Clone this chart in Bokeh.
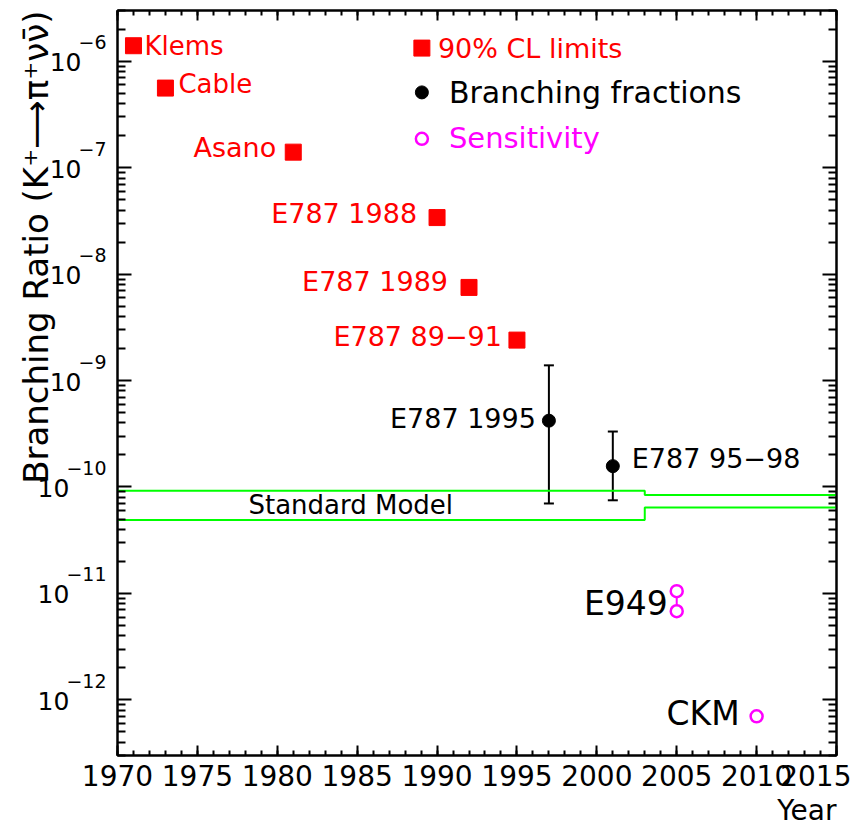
import math
from bokeh.plotting import figure
from bokeh.models import (ColumnDataSource, Range1d, FixedTicker, LinearAxis, LogAxis,
                          Whisker, TeeHead)
from bokeh.core.properties import value
from bokeh.embed import file_html
from bokeh.resources import INLINE

# ---------------- data ----------------
limit_years = [1971, 1973, 1981, 1990, 1992, 1995]
limit_br = [1.4e-6, 5.6e-7, 1.4e-7, 3.4e-8, 7.5e-9, 2.4e-9]
limit_labels = ["Klems", "Cable", "Asano", "E787 1988", "E787 1989", "E787 89\u221291"]

bf_years = [1997, 2001]
bf_values = [4.2e-10, 1.57e-10]
bf_upper = [1.39e-9, 3.32e-10]
bf_lower = [7.0e-11, 7.5e-11]
bf_labels = ["E787 1995", "E787 95\u221298"]

e949_years = [2005, 2005]
e949_values = [1.05e-11, 6.8e-12]
ckm_years = [2010]
ckm_values = [7.0e-13]
sens_labels = ["E949", "CKM"]

sm_years = [1970, 2003, 2015]
sm_upper = [9.2e-11, 8.4e-11, 8.4e-11]
sm_lower = [4.9e-11, 6.4e-11, 6.4e-11]
sm_label = "Standard Model"

x_major_ticks = list(range(1970, 2016, 5))
x_minor_ticks = list(range(1970, 2016))
y_exponents = [-12, -11, -10, -9, -8, -7, -6]

legend_labels = ["90% CL limits", "Branching fractions", "Sensitivity"]

X_MIN, X_MAX = 1970, 2015
Y_MIN, Y_MAX = 3e-13, 3e-6

# ---------------- style ----------------
FONT = "DejaVu Sans"
RED = "#ff0000"
MAGENTA = "#ff00ff"
GREEN = "#00ff00"

p = figure(output_backend="svg", toolbar_location=None,
           frame_width=719, frame_height=745,
           min_border_left=117, min_border_right=15, min_border_top=10, min_border_bottom=74,
           x_range=Range1d(X_MIN, X_MAX), y_range=Range1d(Y_MIN, Y_MAX),
           y_axis_type="log", x_axis_type="linear")
p.grid.visible = False
p.outline_line_color = "black"
p.outline_line_width = 2
p.background_fill_color = "white"
p.border_fill_color = "white"

y_major = [10.0 ** e for e in range(-13, -4)]
y_minor = [k * 10.0 ** e for e in range(-13, -4) for k in range(2, 10)]
xt = FixedTicker(ticks=x_major_ticks, minor_ticks=x_minor_ticks)
yt = FixedTicker(ticks=y_major, minor_ticks=y_minor)


def style_axis(ax, major_in, minor_in, labels=False):
    ax.axis_line_width = 2
    ax.axis_line_color = "black"
    ax.major_tick_in = major_in
    ax.major_tick_out = 0
    ax.minor_tick_in = minor_in
    ax.minor_tick_out = 0
    ax.major_tick_line_width = 2
    ax.minor_tick_line_width = 2
    if not labels:
        ax.major_label_text_font_size = "1px"
        ax.major_label_text_color = None
        ax.major_label_standoff = 0


xb = p.xaxis[0]
xb.ticker = xt
style_axis(xb, 10, 5, labels=True)
xb.major_label_text_font = FONT
xb.major_label_text_font_size = "28px"
xb.major_label_standoff = 9
xb.major_label_text_color = "black"

yl = p.yaxis[0]
yl.ticker = yt
style_axis(yl, 14, 8)

xa = LinearAxis(ticker=xt)
style_axis(xa, 10, 5)
p.add_layout(xa, "above")
yr = LogAxis(ticker=yt)
style_axis(yr, 14, 8)
p.add_layout(yr, "right")

# ---------------- Standard Model band ----------------
p.step(sm_years, sm_upper, mode="after", line_color=GREEN, line_width=2)
p.step(sm_years, sm_lower, mode="after", line_color=GREEN, line_width=2)

# ---------------- error bars ----------------
bf_src = ColumnDataSource(dict(x=bf_years, y=bf_values, upper=bf_upper, lower=bf_lower))
p.add_layout(Whisker(source=bf_src, base="x", upper="upper", lower="lower", dimension="height",
                     line_width=2, line_color="black",
                     upper_head=TeeHead(size=10, line_width=2, line_color="black"),
                     lower_head=TeeHead(size=10, line_width=2, line_color="black")))

# E949 connector
p.segment(x0=e949_years[:1], y0=e949_values[:1], x1=e949_years[1:], y1=e949_values[1:],
          line_color=MAGENTA, line_width=2)

# ---------------- markers ----------------
p.scatter(limit_years, limit_br, marker="square", size=16, fill_color=RED, line_color=RED)
p.scatter(bf_years, bf_values, marker="circle", size=13, fill_color="black", line_color="black")
p.scatter(e949_years + ckm_years, e949_values + ckm_values, marker="circle", size=12,
          fill_color="white", line_color=MAGENTA, line_width=2.5)


# ---------------- labels ----------------
def add_text(xs, ys, texts, xoff, yoff, align, color, size, baseline="middle", angle=0.0):
    src = ColumnDataSource(dict(x=xs, y=ys, text=texts, xo=xoff, yo=yoff))
    p.text(x="x", y="y", text="text", x_offset="xo", y_offset="yo", source=src,
           text_align=align, text_baseline=baseline, text_color=color,
           text_font=value(FONT), text_font_size=size, angle=angle, level="overlay")


# red limit labels: Klems, Cable to the right; others to the left
add_text(limit_years[:2], limit_br[:2], limit_labels[:2], [11, 13], [0, -4], "left", RED, "26px")
add_text(limit_years[2:], limit_br[2:], limit_labels[2:], [-17, -20, -21, -15], [-5, -4, -6, -4],
         "right", RED, "27px")
# branching-fraction labels
add_text(bf_years[:1], bf_values[:1], bf_labels[:1], [-13], [-2], "right", "black", "27px")
add_text(bf_years[1:], bf_values[1:], bf_labels[1:], [19], [-8], "left", "black", "27px")
# sensitivity labels
e949_mid = math.sqrt(e949_values[0] * e949_values[1])
add_text([e949_years[0], ckm_years[0]], [e949_mid, ckm_values[0]], sens_labels,
         [-9, -17], [2, -3], "right", "black", "33px")
# Standard Model text
add_text([1984.6], [math.sqrt(sm_upper[0] * sm_lower[0])], [sm_label], [0], [0], "center",
         "black", "26px")

# legend (placed in data coordinates of the upper middle area)
leg_x = 1989.05
leg_y = [1.33e-6, 5.1e-7, 1.87e-7]
p.scatter([leg_x], [leg_y[0]], marker="square", size=16, fill_color=RED, line_color=RED)
p.scatter([leg_x], [leg_y[1]], marker="circle", size=13, fill_color="black", line_color="black")
p.scatter([leg_x], [leg_y[2]], marker="circle", size=12, fill_color="white",
          line_color=MAGENTA, line_width=2.5)
add_text([leg_x], [leg_y[0]], legend_labels[:1], [16], [0], "left", RED, "27px")
add_text([leg_x], [leg_y[1]], legend_labels[1:2], [27], [0], "left", "black", "30px")
add_text([leg_x], [leg_y[2]], legend_labels[2:], [27], [-1], "left", MAGENTA, "29px")

# y tick labels: "10" with a raised exponent
exp_texts = ["\u2212%d" % (-e) for e in y_exponents]
exp_w = [(0.838 + 0.636 * len(str(-e))) * 19 for e in y_exponents]
ten_off = [-11 - w + 3 for w in exp_w]
add_text([X_MIN] * len(y_exponents), [10.0 ** e for e in y_exponents], ["10"] * len(y_exponents),
         ten_off, [1] * len(y_exponents), "right", "black", "25px")
add_text([X_MIN] * len(y_exponents), [10.0 ** e for e in y_exponents], exp_texts,
         [-11] * len(y_exponents), [-19] * len(y_exponents), "right", "black", "19px")

# axis titles
add_text([X_MIN], [Y_MAX], ["Branching Ratio (K\u207a\u27f6\u03c0\u207a\u03bd\u03bd\u0304)"],
         [-82], [0], "right", "black", "34px", baseline="alphabetic", angle=math.pi / 2)
add_text([X_MAX], [Y_MIN], ["Year"], [0], [55], "right", "black", "28px")

open("out.html", "w").write(file_html(p, INLINE))
